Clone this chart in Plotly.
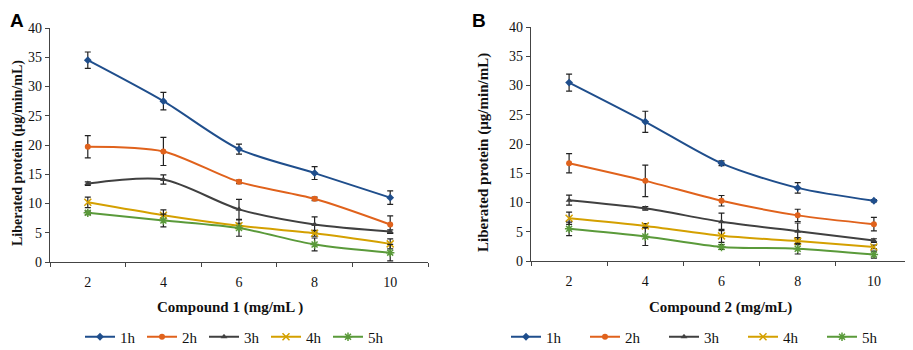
import plotly.graph_objects as go

categories = ["2", "4", "6", "8", "10"]
series_names = ["1h", "2h", "3h", "4h", "5h"]

# Panel A (Compound 1)
a_1h = [34.5, 27.5, 19.3, 15.2, 11.0]
a_2h = [19.7, 18.9, 13.7, 10.8, 6.4]
a_3h = [13.4, 14.1, 9.0, 6.4, 5.2]
a_4h = [10.2, 8.0, 6.2, 4.9, 3.1]
a_5h = [8.4, 7.1, 5.8, 3.0, 1.6]
a_err_1h = [1.4, 1.5, 0.85, 1.1, 1.15]
a_err_2h = [1.9, 2.4, 0.3, 0.3, 1.5]
a_err_3h = [0.3, 0.8, 1.7, 1.3, 0.3]
a_err_4h = [0.9, 0.9, 0.4, 0.5, 0.85]
a_err_5h = [0.3, 1.1, 1.4, 1.1, 1.4]

# Panel B (Compound 2)
b_1h = [30.5, 23.8, 16.7, 12.5, 10.3]
b_2h = [16.7, 13.7, 10.3, 7.8, 6.3]
b_3h = [10.4, 9.0, 6.7, 5.1, 3.5]
b_4h = [7.3, 6.0, 4.3, 3.4, 2.4]
b_5h = [5.5, 4.2, 2.4, 2.1, 1.1]
b_err_1h = [1.45, 1.8, 0.4, 0.9, 0.2]
b_err_2h = [1.65, 2.7, 0.9, 1.05, 1.15]
b_err_3h = [0.85, 0.3, 1.5, 1.4, 0.3]
b_err_4h = [1.05, 0.4, 1.1, 0.6, 0.3]
b_err_5h = [1.15, 1.55, 0.4, 0.9, 0.6]

y_ticks = [0, 5, 10, 15, 20, 25, 30, 35, 40]

colors = ["#1F4E8C", "#E0621C", "#404040", "#D4A000", "#5A9A3A"]
symbols = ["diamond", "circle", "triangle-up", "x-thin-open", "asterisk-open"]

A_vals = [a_1h, a_2h, a_3h, a_4h, a_5h]
A_errs = [a_err_1h, a_err_2h, a_err_3h, a_err_4h, a_err_5h]
B_vals = [b_1h, b_2h, b_3h, b_4h, b_5h]
B_errs = [b_err_1h, b_err_2h, b_err_3h, b_err_4h, b_err_5h]

serif = "Liberation Serif"

# page has an 8px body margin; figure sized to fill the rest of the window
OFF = 8
W, H = 913 - OFF, 350 - OFF


def xp(X):
    return (X - OFF) / W


def yp(Y):
    return 1 - (Y - OFF) / H


fig = go.Figure()


def add_panel(vals, errs, xa, ya, legend):
    for i, name in enumerate(series_names):
        open_sym = symbols[i].endswith("open")
        fig.add_trace(go.Scatter(
            x=categories, y=vals[i], name=name, mode="lines+markers",
            xaxis=xa, yaxis=ya, legend=legend,
            line=dict(color=colors[i], width=2, shape="spline", smoothing=0.8),
            marker=dict(symbol=symbols[i], size=7 if open_sym else 6,
                        color=colors[i],
                        line=dict(color=colors[i], width=1.5 if open_sym else 0)),
            error_y=dict(type="data", array=errs[i], visible=True,
                         color="#222222", thickness=1.2, width=3),
        ))


add_panel(A_vals, A_errs, "x", "y", "legend")
add_panel(B_vals, B_errs, "x2", "y2", "legend2")

axis_common_x = dict(
    type="category", range=[-0.5, 4.5], showgrid=False, showline=True,
    linecolor="#444444", linewidth=1.2, ticks="outside", ticklen=4,
    tickcolor="#444444", tickson="boundaries", ticklabelstandoff=7,
    tickfont=dict(family=serif, size=14, color="#111111"), zeroline=False,
)
axis_common_y = dict(
    range=[0, 40], tickvals=y_ticks, showgrid=False, showline=True,
    linecolor="#444444", linewidth=1.2, ticks="outside", ticklen=4,
    tickcolor="#444444", zeroline=False,
    tickfont=dict(family=serif, size=14, color="#111111"),
)

fig.update_layout(
    width=W, height=H,
    margin=dict(l=0, r=0, t=0, b=0, autoexpand=False),
    paper_bgcolor="white", plot_bgcolor="white",
    xaxis=dict(domain=[xp(50), xp(428)], anchor="y", **axis_common_x),
    yaxis=dict(domain=[yp(262), yp(28)], anchor="x", **axis_common_y),
    xaxis2=dict(domain=[xp(531), xp(912)], anchor="y2", **axis_common_x),
    yaxis2=dict(domain=[yp(261), yp(27)], anchor="x2", **axis_common_y),
    legend=dict(orientation="h", x=xp(80), xanchor="left", y=yp(337),
                yanchor="middle", font=dict(family=serif, size=15, color="#111111"),
                entrywidth=17, itemwidth=30, bgcolor="rgba(0,0,0,0)"),
    legend2=dict(orientation="h", x=xp(506), xanchor="left", y=yp(337),
                 yanchor="middle", font=dict(family=serif, size=15, color="#111111"),
                 entrywidth=34, itemwidth=30, bgcolor="rgba(0,0,0,0)"),
)

annotations = [
    dict(text="<b>A</b>", x=xp(8), y=yp(8), xref="paper", yref="paper",
         xanchor="left", yanchor="top", showarrow=False,
         font=dict(family="Liberation Sans", size=19, color="black")),
    dict(text="<b>B</b>", x=xp(470), y=yp(8), xref="paper", yref="paper",
         xanchor="left", yanchor="top", showarrow=False,
         font=dict(family="Liberation Sans", size=19, color="black")),
    dict(text="<b>Compound 1 (mg/mL )</b>", x=xp(230), y=yp(307),
         xref="paper", yref="paper", xanchor="center", yanchor="middle",
         showarrow=False, font=dict(family=serif, size=15, color="#111111")),
    dict(text="<b>Compound 2 (mg/mL)</b>", x=xp(720), y=yp(307),
         xref="paper", yref="paper", xanchor="center", yanchor="middle",
         showarrow=False, font=dict(family=serif, size=15, color="#111111")),
    dict(text="<b>Liberated protein (µg/min/mL)</b>", x=xp(8), y=yp(153),
         xref="paper", yref="paper", xanchor="left", yanchor="middle",
         textangle=-90, showarrow=False, font=dict(family=serif, size=14, color="#111111")),
    dict(text="<b>Liberated protein (µg/min/mL)</b>", x=xp(483), y=yp(153),
         xref="paper", yref="paper", xanchor="center", yanchor="middle",
         textangle=-90, showarrow=False, font=dict(family=serif, size=15, color="#111111")),
]
fig.update_layout(annotations=annotations)

fig.write_html("out.html")
